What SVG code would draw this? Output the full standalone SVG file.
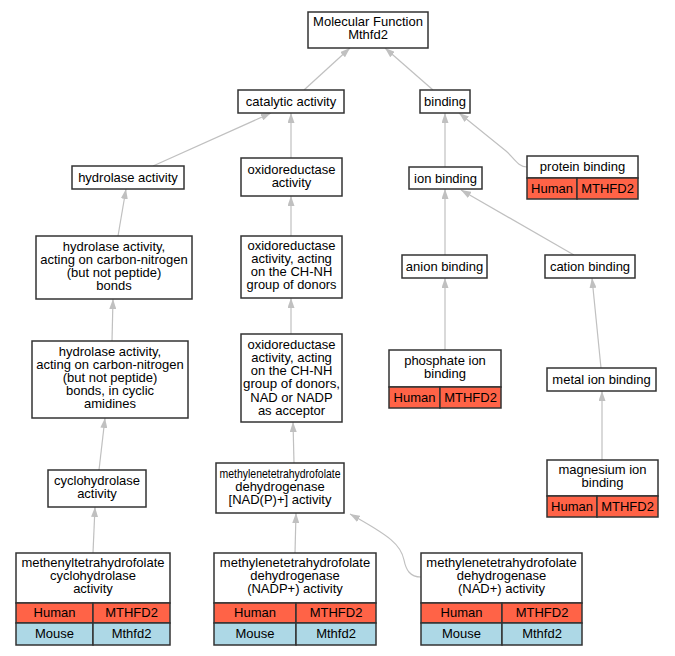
<svg xmlns="http://www.w3.org/2000/svg" width="675" height="656" viewBox="0 0 675 656">
<defs>
<style>
.box{fill:#ffffff;stroke:#333333;stroke-width:1.5}
.hum{fill:#ff6347;stroke:#333333;stroke-width:1.5}
.mou{fill:#add8e6;stroke:#333333;stroke-width:1.5}
text{font-family:"Liberation Sans",Arial,sans-serif;font-size:13px;fill:#000000;text-anchor:middle}
.edge{fill:none;stroke:#c0c0c0;stroke-width:1.2;marker-end:url(#arr)}
</style>
<marker id="arr" viewBox="0 0 10 7" refX="10" refY="3.5" markerWidth="10" markerHeight="7" markerUnits="userSpaceOnUse" orient="auto">
<path d="M0,0 L10,3.5 L0,7 z" fill="#c0c0c0"/>
</marker>
</defs>
<rect width="675" height="656" fill="#ffffff"/>
<g id="edges">
<path class="edge" d="M304,90 L350,48"/>
<path class="edge" d="M433,90 L385,48"/>
<path class="edge" d="M153,166 L271,113"/>
<path class="edge" d="M291,158 L291,113"/>
<path class="edge" d="M445,167 L445,113"/>
<path class="edge" d="M527,167 C518,167 514,158 506,151 L459,113"/>
<path class="edge" d="M118,236 L126,189"/>
<path class="edge" d="M291,236 L291,196"/>
<path class="edge" d="M112,341 L113,299"/>
<path class="edge" d="M291,334 L291,298"/>
<path class="edge" d="M99,470 L105,418"/>
<path class="edge" d="M294,463 L293,422"/>
<path class="edge" d="M93,553 L95,507"/>
<path class="edge" d="M295,553 L296,513"/>
<path class="edge" d="M421,577 C410,577 406,570 404,560 C401,545 390,536 350,514"/>
<path class="edge" d="M445,255 L445,189"/>
<path class="edge" d="M574,255 L461,190"/>
<path class="edge" d="M445,350 L445,278"/>
<path class="edge" d="M601,368 L592,278"/>
<path class="edge" d="M602,460 L602,391"/>
</g>
<g id="n_mf">
<rect class="box" x="308" y="12" width="120" height="36"/>
<text x="368" y="26">Molecular Function</text>
<text x="368" y="39">Mthfd2</text>
</g>
<g id="n_catalytic">
<rect class="box" x="238" y="90" width="106" height="23"/>
<text x="291" y="106">catalytic activity</text>
</g>
<g id="n_binding">
<rect class="box" x="420" y="90" width="50" height="23"/>
<text x="445" y="106">binding</text>
</g>
<g id="n_hydrolase">
<rect class="box" x="72" y="166" width="112" height="23"/>
<text x="128" y="182">hydrolase activity</text>
</g>
<g id="n_oxido">
<rect class="box" x="241" y="158" width="101" height="38"/>
<text x="291.5" y="174">oxidoreductase</text>
<text x="291.5" y="187">activity</text>
</g>
<g id="n_hydro_cn">
<rect class="box" x="36" y="236" width="156" height="63"/>
<text x="114" y="250.5">hydrolase activity,</text>
<text x="114" y="263.5">acting on carbon-nitrogen</text>
<text x="114" y="276.5">(but not peptide)</text>
<text x="114" y="289.5">bonds</text>
</g>
<g id="n_oxido_chnh">
<rect class="box" x="241" y="236" width="101" height="62"/>
<text x="291.5" y="250">oxidoreductase</text>
<text x="291.5" y="263">activity, acting</text>
<text x="291.5" y="276">on the CH-NH</text>
<text x="291.5" y="289" textLength="90" lengthAdjust="spacingAndGlyphs">group of donors</text>
</g>
<g id="n_hydro_cyclic">
<rect class="box" x="32" y="341" width="156" height="77"/>
<text x="110" y="355.5">hydrolase activity,</text>
<text x="110" y="368.7">acting on carbon-nitrogen</text>
<text x="110" y="381.9">(but not peptide)</text>
<text x="110" y="395.1">bonds, in cyclic</text>
<text x="110" y="408.3">amidines</text>
</g>
<g id="n_oxido_nad">
<rect class="box" x="241" y="334" width="101" height="88"/>
<text x="291.5" y="348.5">oxidoreductase</text>
<text x="291.5" y="361.8">activity, acting</text>
<text x="291.5" y="375.1">on the CH-NH</text>
<text x="291.5" y="388.4" textLength="97" lengthAdjust="spacingAndGlyphs">group of donors,</text>
<text x="291.5" y="401.7">NAD or NADP</text>
<text x="291.5" y="415">as acceptor</text>
</g>
<g id="n_cyclo">
<rect class="box" x="48" y="470" width="98" height="37"/>
<text x="97" y="485">cyclohydrolase</text>
<text x="97" y="498">activity</text>
</g>
<g id="n_nadp_any">
<rect class="box" x="216" y="463" width="128" height="50"/>
<text x="280" y="478" textLength="121" lengthAdjust="spacingAndGlyphs">methylenetetrahydrofolate</text>
<text x="280" y="491">dehydrogenase</text>
<text x="280" y="504">[NAD(P)+] activity</text>
</g>
<g id="n_methenyl">
<rect class="box" x="16" y="553" width="154" height="50"/>
<text x="93" y="567">methenyltetrahydrofolate</text>
<text x="93" y="580">cyclohydrolase</text>
<text x="93" y="593">activity</text>
<rect class="hum" x="16" y="603" width="77" height="20"/>
<rect class="hum" x="93" y="603" width="77" height="20"/>
<text x="54.5" y="617">Human</text>
<text x="131.5" y="617">MTHFD2</text>
<rect class="mou" x="16" y="623" width="77" height="22"/>
<rect class="mou" x="93" y="623" width="77" height="22"/>
<text x="54.5" y="638">Mouse</text>
<text x="131.5" y="638">Mthfd2</text>
</g>
<g id="n_nadp">
<rect class="box" x="214" y="553" width="162" height="50"/>
<text x="295" y="567">methylenetetrahydrofolate</text>
<text x="295" y="580">dehydrogenase</text>
<text x="295" y="593">(NADP+) activity</text>
<rect class="hum" x="214" y="603" width="82" height="20"/>
<rect class="hum" x="296" y="603" width="80" height="20"/>
<text x="255" y="617">Human</text>
<text x="336" y="617">MTHFD2</text>
<rect class="mou" x="214" y="623" width="82" height="22"/>
<rect class="mou" x="296" y="623" width="80" height="22"/>
<text x="255" y="638">Mouse</text>
<text x="336" y="638">Mthfd2</text>
</g>
<g id="n_nad">
<rect class="box" x="421" y="553" width="161" height="50"/>
<text x="501.5" y="567">methylenetetrahydrofolate</text>
<text x="501.5" y="580">dehydrogenase</text>
<text x="501.5" y="593">(NAD+) activity</text>
<rect class="hum" x="421" y="603" width="81" height="20"/>
<rect class="hum" x="502" y="603" width="80" height="20"/>
<text x="461.5" y="617">Human</text>
<text x="542" y="617">MTHFD2</text>
<rect class="mou" x="421" y="623" width="81" height="22"/>
<rect class="mou" x="502" y="623" width="80" height="22"/>
<text x="461.5" y="638">Mouse</text>
<text x="542" y="638">Mthfd2</text>
</g>
<g id="n_ion">
<rect class="box" x="409" y="167" width="73" height="22"/>
<text x="445.5" y="182.5">ion binding</text>
</g>
<g id="n_protein">
<rect class="box" x="527" y="156" width="111" height="22"/>
<text x="582.5" y="171">protein binding</text>
<rect class="hum" x="527" y="178" width="50" height="21"/>
<rect class="hum" x="577" y="178" width="61" height="21"/>
<text x="552" y="192.5">Human</text>
<text x="607.5" y="192.5">MTHFD2</text>
</g>
<g id="n_anion">
<rect class="box" x="402" y="255" width="85" height="23"/>
<text x="444.5" y="271">anion binding</text>
</g>
<g id="n_cation">
<rect class="box" x="545" y="255" width="90" height="23"/>
<text x="590" y="271">cation binding</text>
</g>
<g id="n_phosphate">
<rect class="box" x="389" y="350" width="112" height="37"/>
<text x="445" y="365">phosphate ion</text>
<text x="445" y="378">binding</text>
<rect class="hum" x="389" y="387" width="51" height="21"/>
<rect class="hum" x="440" y="387" width="61" height="21"/>
<text x="414.5" y="401.5">Human</text>
<text x="470.5" y="401.5">MTHFD2</text>
</g>
<g id="n_metal">
<rect class="box" x="547" y="368" width="109" height="23"/>
<text x="601.5" y="384">metal ion binding</text>
</g>
<g id="n_magnesium">
<rect class="box" x="547" y="460" width="111" height="36"/>
<text x="602.5" y="474">magnesium ion</text>
<text x="602.5" y="487">binding</text>
<rect class="hum" x="547" y="496" width="50" height="21"/>
<rect class="hum" x="597" y="496" width="61" height="21"/>
<text x="572" y="510.5">Human</text>
<text x="627.5" y="510.5">MTHFD2</text>
</g>
</svg>
